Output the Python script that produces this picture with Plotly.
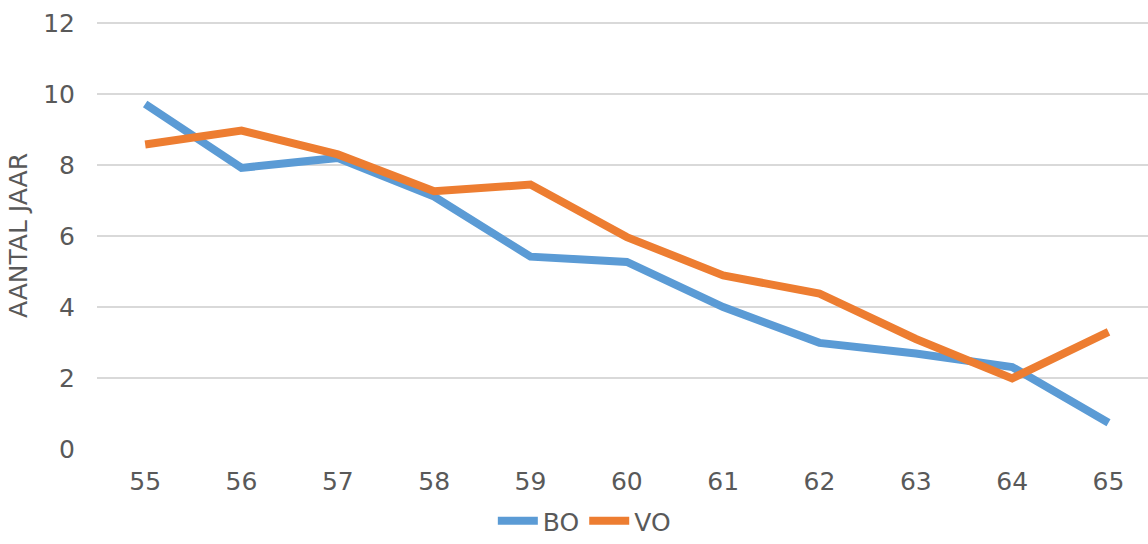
import plotly.graph_objects as go

ages = [55, 56, 57, 58, 59, 60, 61, 62, 63, 64, 65]
bo = [9.72, 7.92, 8.20, 7.11, 5.42, 5.27, 4.00, 2.99, 2.69, 2.31, 0.74]
vo = [8.58, 8.97, 8.30, 7.26, 7.45, 5.97, 4.89, 4.38, 3.10, 1.99, 3.30]
y_ticks = [0, 2, 4, 6, 8, 10, 12]

font_family = "DejaVu Sans, Verdana, sans-serif"
text_color = "#595959"
fs = 25

fig = go.Figure()
fig.add_trace(go.Scatter(x=ages, y=bo, mode="lines", name="BO",
                         line=dict(color="#5B9BD5", width=8)))
fig.add_trace(go.Scatter(x=ages, y=vo, mode="lines", name="VO",
                         line=dict(color="#ED7D31", width=8)))

fig.update_layout(
    width=1148, height=544,
    margin=dict(l=97, r=0, t=22, b=95, autoexpand=False),
    paper_bgcolor="white", plot_bgcolor="white",
    font=dict(family=font_family, color=text_color, size=fs),
    showlegend=True,
    legend=dict(orientation="h", xref="container", x=0.509, xanchor="center",
                yref="container", y=-0.011, yanchor="bottom",
                font=dict(size=fs, color=text_color), itemwidth=40,
                traceorder="normal"),
    xaxis=dict(range=[54.5, 65.41], tickvals=ages, ticktext=[str(a) for a in ages],
               showgrid=False, zeroline=False, showline=False, ticks="",
               automargin=False,
               tickfont=dict(size=fs, color=text_color), ticklabelstandoff=15),
    yaxis=dict(range=[0, 12.03], tickvals=y_ticks, showgrid=True, gridcolor="#D9D9D9",
               gridwidth=1.5, zeroline=False, showline=False, ticks="",
               automargin=False,
               tickfont=dict(size=fs, color=text_color), ticklabelstandoff=21,
               title=dict(text="AANTAL JAAR", font=dict(size=fs, color=text_color), standoff=8)),
)

fig.write_html("out.html", config={"displayModeBar": False},
               post_script="document.body.style.margin='0';")
